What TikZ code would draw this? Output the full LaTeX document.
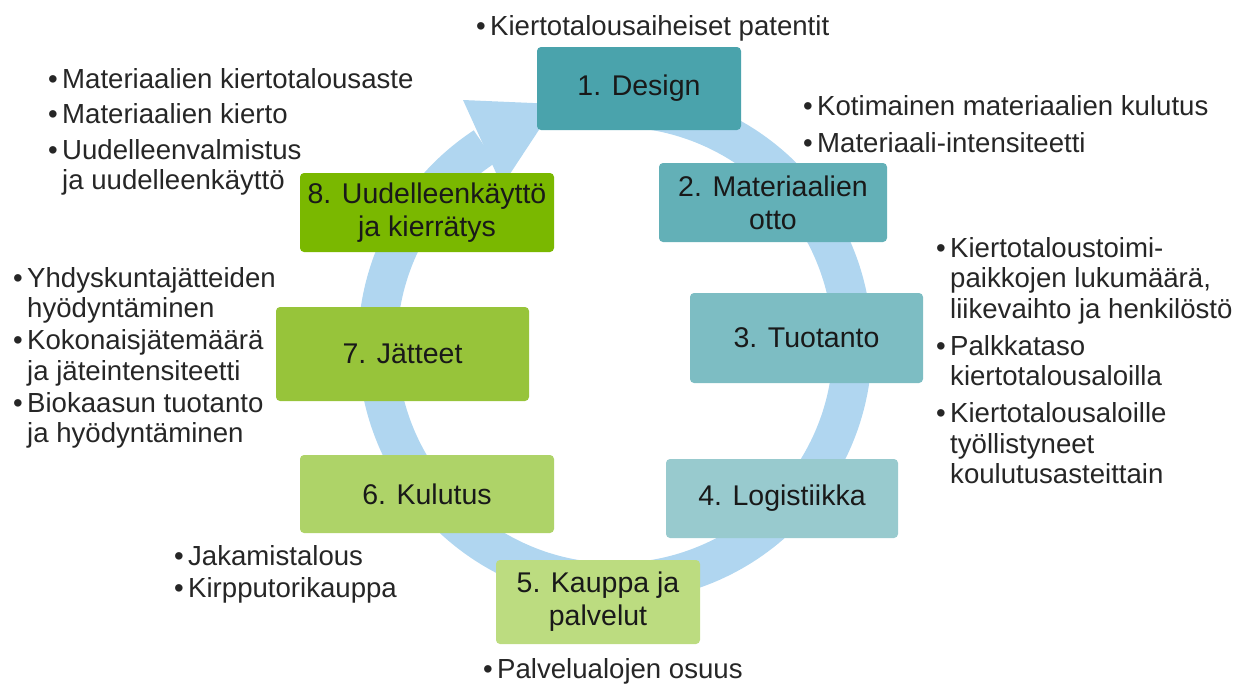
\documentclass[tikz,border=0pt]{standalone}
\usepackage{fontspec}
\setmainfont{Liberation Sans}
\usetikzlibrary{calc}

\definecolor{ringblue}{RGB}{176,214,240}
\definecolor{tealA}{RGB}{74,163,172}
\definecolor{tealB}{RGB}{99,176,183}
\definecolor{tealC}{RGB}{125,189,195}
\definecolor{tealD}{RGB}{152,202,206}
\definecolor{greenE}{RGB}{188,220,128}
\definecolor{greenF}{RGB}{174,211,104}
\definecolor{greenG}{RGB}{151,196,58}
\definecolor{greenH}{RGB}{122,184,0}

\newcommand{\itm}{\makebox[14pt][l]{\textbullet}}

\begin{document}
\begin{tikzpicture}[x=1pt, y=1pt]
		\tikzset{stage/.style={rectangle, rounded corners=4pt, inner sep=0pt, align=center, text=black!90, font=\fontsize{28.5}{33}\selectfont}};
		\tikzset{notes/.style={anchor=base west, inner sep=0pt, text=black!85, font=\fontsize{27.6}{30.5}\selectfont}};

		\useasboundingbox (0,0) rectangle (1234,-683);

		% kierron nuoli
		\coordinate (c) at (615,-345);
		\coordinate (tipa) at (463,-100);
		\coordinate (tipb) at (556,-104);
		\coordinate (tipc) at (502,-186);
		\draw[ringblue, line width=39pt] ($(c)+(98:237.5)$) arc[start angle=98, end angle=-236.7, radius=237.5];
		\fill[ringblue] (tipa) -- (tipb) -- (tipc) -- cycle;

		% vaiheet
		\node[stage, fill=tealA, minimum width=204pt, minimum height=83pt] (design) at (639,-88.5) {1. Design};
		\node[stage, fill=tealB, minimum width=228pt, minimum height=79pt] (otto) at (773,-202.5) {2. Materiaalien\\otto};
		\node[stage, fill=tealC, minimum width=233pt, minimum height=90pt] (tuotanto) at (806.5,-338) {3. Tuotanto};
		\node[stage, fill=tealD, minimum width=232pt, minimum height=79pt] (logistiikka) at (782,-498.5) {4. Logistiikka};
		\node[stage, fill=greenE, minimum width=204pt, minimum height=84pt] (kauppa) at (598,-602) {5. Kauppa ja\\palvelut};
		\node[stage, fill=greenF, minimum width=254pt, minimum height=78pt] (kulutus) at (427,-494) {6. Kulutus};
		\node[stage, fill=greenG, minimum width=253pt, minimum height=94pt] (jatteet) at (402.5,-354) {7. Jätteet};
		\node[stage, fill=greenH, minimum width=254pt, minimum height=79pt] (kierratys) at (427,-212.5) {8. Uudelleenkäyttö\\ja kierrätys};

		% mittarit
		\node[notes] (mdesign) at (476,-35) {\begin{tabular}[t]{@{}l@{}l@{}}
			\itm & Kiertotalousaiheiset patentit
		\end{tabular}};
		\node[notes] (motto) at (803,-115) {\begin{tabular}[t]{@{}l@{}l@{}}
			\itm & Kotimainen materiaalien kulutus\\[6.5pt]
			\itm & Materiaali-intensiteetti
		\end{tabular}};
		\node[notes] (mtuotanto) at (936,-257) {\begin{tabular}[t]{@{}l@{}l@{}}
			\itm & Kiertotaloustoimi-\\
			     & paikkojen lukumäärä,\\
			     & liikevaihto ja henkilöstö\\[6.5pt]
			\itm & Palkkataso\\
			     & kiertotalousaloilla\\[6.5pt]
			\itm & Kiertotalousaloille\\
			     & työllistyneet\\
			     & koulutusasteittain
		\end{tabular}};
		\node[notes] (mkauppa) at (483,-678) {\begin{tabular}[t]{@{}l@{}l@{}}
			\itm & Palvelualojen osuus
		\end{tabular}};
		\node[notes] (mkulutus) at (174,-565) {\begin{tabular}[t]{@{}l@{}l@{}}
			\itm & Jakamistalous\\[1.5pt]
			\itm & Kirpputorikauppa
		\end{tabular}};
		\node[notes] (mjatteet) at (13,-287) {\begin{tabular}[t]{@{}l@{}l@{}}
			\itm & Yhdyskuntajätteiden\\
			     & hyödyntäminen\\[1.5pt]
			\itm & Kokonaisjätemäärä\\
			     & ja jäteintensiteetti\\[1.5pt]
			\itm & Biokaasun tuotanto\\
			     & ja hyödyntäminen
		\end{tabular}};
		\node[notes] (mkierratys) at (48,-88) {\begin{tabular}[t]{@{}l@{}l@{}}
			\itm & Materiaalien kiertotalousaste\\[5pt]
			\itm & Materiaalien kierto\\[5pt]
			\itm & Uudelleenvalmistus\\
			     & ja uudelleenkäyttö
		\end{tabular}};
	\end{tikzpicture}
\end{document}
